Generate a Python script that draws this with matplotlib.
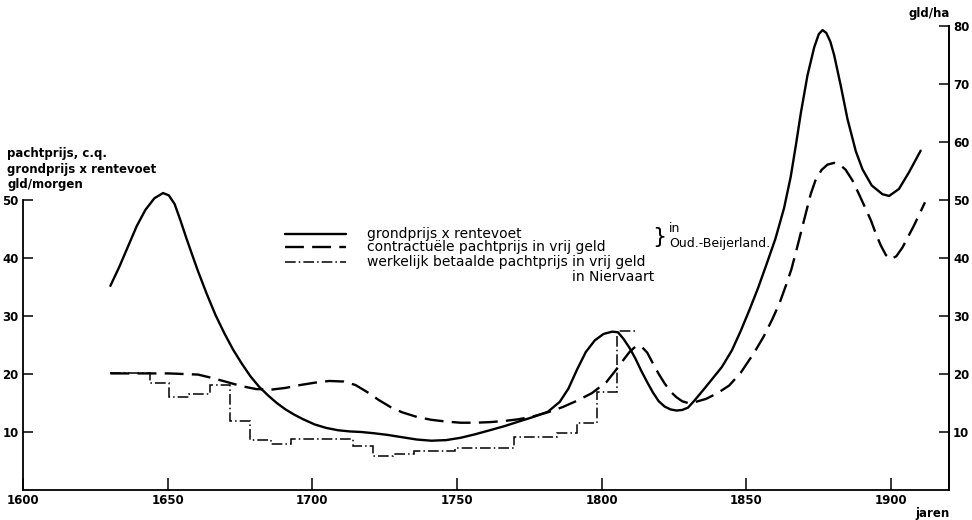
import matplotlib
matplotlib.use("Agg")
import matplotlib.pyplot as plt
from matplotlib.lines import Line2D
from matplotlib.transforms import Affine2D

plt.rcParams['font.family'] = ['DejaVu Sans']

# ---- data ----
grond_years = [1630.2, 1633.3, 1636.3, 1639.3, 1642.3, 1645.4, 1648.4, 1650.4, 1652.4, 1654.4,
               1656.4, 1658.5, 1660.5, 1663.5, 1666.5, 1669.5, 1672.6, 1675.6, 1678.6, 1681.6,
               1684.7, 1687.7, 1690.7, 1693.7, 1696.8, 1700.8, 1704.8, 1708.9, 1712.9, 1716.9,
               1721.0, 1726.0, 1731.0, 1736.1, 1741.1, 1746.2, 1751.2, 1756.2, 1761.3, 1766.3,
               1771.3, 1776.4, 1781.4, 1785.5, 1788.5, 1791.5, 1794.5, 1797.6, 1800.6, 1803.6,
               1805.6, 1807.6, 1809.6, 1811.6, 1813.6, 1815.7, 1817.7, 1819.7, 1821.7, 1823.7,
               1825.8, 1827.8, 1829.8, 1832.0, 1836.0, 1841.5, 1845.0, 1848.0, 1851.0, 1854.0,
               1857.0, 1860.0, 1863.0, 1865.3, 1867.1, 1868.8, 1871.1, 1873.4, 1875.0, 1876.3,
               1877.6, 1879.0, 1880.3, 1882.6, 1884.9, 1887.8, 1890.1, 1893.3, 1897.0, 1899.3,
               1902.7, 1906.2, 1910.2]
grond_vals = [35.2, 38.5, 42.0, 45.5, 48.3, 50.3, 51.2, 50.8, 49.3, 46.5,
              43.5, 40.5, 37.7, 33.8, 30.2, 27.1, 24.2, 21.8, 19.6, 17.8,
              16.3, 15.0, 13.9, 13.0, 12.2, 11.3, 10.7, 10.3, 10.1, 10.0,
              9.8, 9.5, 9.1, 8.7, 8.5, 8.6, 9.0, 9.6, 10.3, 11.0,
              11.8, 12.6, 13.5, 15.2, 17.5, 20.8, 23.8, 25.8, 26.9, 27.3,
              27.2, 26.0, 24.5, 22.7, 20.6, 18.6, 16.8, 15.3, 14.4, 13.9,
              13.7, 13.8, 14.2, 15.4, 17.8, 21.2, 24.1, 27.4, 31.0, 34.8,
              39.0, 43.3, 48.6, 54.0, 59.5, 65.0, 71.5, 76.3, 78.6, 79.3,
              78.8, 77.3, 75.0, 69.7, 64.0, 58.4, 55.3, 52.5, 51.0, 50.7,
              51.9, 54.8, 58.5]

contract_years = [1630.2, 1640.3, 1650.4, 1660.5, 1665.5, 1670.6, 1675.6, 1680.6, 1685.7, 1690.7,
                  1695.8, 1700.8, 1705.8, 1710.9, 1714.9, 1718.9, 1723.0, 1727.0, 1731.0, 1736.1,
                  1741.1, 1746.2, 1751.2, 1756.2, 1761.3, 1766.3, 1771.3, 1776.4, 1781.4, 1786.5,
                  1791.5, 1796.6, 1801.6, 1804.6, 1807.6, 1809.6, 1811.6, 1813.6, 1815.7, 1817.7,
                  1819.7, 1821.7, 1823.7, 1825.8, 1827.8, 1829.8, 1831.8, 1836.0, 1840.0, 1844.0,
                  1848.0, 1852.7, 1856.0, 1859.0, 1861.5, 1863.6, 1865.5, 1867.1, 1869.9, 1872.2,
                  1874.0, 1876.0, 1878.0, 1880.3, 1882.3, 1884.3, 1886.6, 1888.9, 1891.0, 1893.0,
                  1894.8, 1896.4, 1898.2, 1899.9, 1901.8, 1903.9, 1907.9, 1911.7]
contract_vals = [20.1, 20.1, 20.1, 19.9, 19.3, 18.6, 17.9, 17.4, 17.3, 17.6,
                 18.1, 18.5, 18.8, 18.7, 18.1, 16.9, 15.5, 14.3, 13.4, 12.6,
                 12.1, 11.8, 11.6, 11.6, 11.7, 11.9, 12.2, 12.7, 13.4, 14.3,
                 15.4, 16.7, 18.6, 20.5, 22.5, 23.8, 24.7, 24.8, 23.7, 21.8,
                 20.0, 18.4, 17.0, 16.0, 15.3, 15.0, 15.1, 15.7, 16.7, 18.0,
                 20.2, 23.7, 26.5, 29.5, 32.3, 35.2, 38.0, 41.0, 46.5, 51.0,
                 53.6, 55.2, 56.1, 56.4, 56.1, 55.2, 53.4, 51.0, 48.7, 46.5,
                 44.1, 42.2, 40.5, 39.8, 40.3, 41.8, 45.6, 49.6]

werk_edges = [1630.2, 1643.8, 1650.4, 1657.5, 1664.5, 1671.6, 1678.6, 1685.7, 1692.7, 1713.9,
              1721.0, 1728.0, 1735.1, 1749.2, 1769.8, 1784.5, 1791.5, 1798.2, 1805.4, 1811.9]
werk_vals = [20.1, 18.4, 16.0, 16.6, 18.1, 11.9, 8.6, 7.9, 8.8, 7.6, 5.9, 6.2, 6.7, 7.2, 9.1,
             9.8, 11.6, 16.9, 27.4]

x_ticks = [1600, 1650, 1700, 1750, 1800, 1850, 1900]
left_ticks = [10, 20, 30, 40, 50]
right_ticks = [10, 20, 30, 40, 50, 60, 70, 80]

labels = ["grondprijs x rentevoet",
          "contractuële pachtprijs in vrij geld",
          "werkelijk betaalde pachtprijs in vrij geld"]

# ---- figure ----
W, H = 972, 520
fig = plt.figure(figsize=(W / 100, H / 100), dpi=100)
x0, x1 = 23, 949
y_bottom = 490
ax = fig.add_axes([x0 / W, (H - y_bottom) / H, (x1 - x0) / W, y_bottom / H])
ax.set_xlim(1600, 1920)
ax.set_ylim(0, y_bottom / 5.8)

solid_style = dict(color='black', lw=1.7, linestyle='-', solid_capstyle='round',
                   solid_joinstyle='round')
dash_style = dict(color='black', lw=1.7, linestyle=(0, (8, 3.5)))
dashdot_style = dict(color='black', lw=1.1, linestyle=(0, (7, 2, 1, 2)))

ax.plot(grond_years, grond_vals, **solid_style)
ax.plot(contract_years, contract_vals, **dash_style)
ax.stairs(werk_vals, werk_edges, baseline=None, fill=False, edgecolor='black',
          lw=1.1, linestyle=(0, (7, 2, 1, 2)))

# spines
ax.spines['top'].set_visible(False)
ax.spines['left'].set_bounds(0, 50)
ax.spines['right'].set_bounds(0, 80)
for s in ['left', 'right', 'bottom']:
    ax.spines[s].set_linewidth(1.3)

tick_font = dict(fontsize=8.5, fontweight='bold')
ax.set_xticks(x_ticks)
ax.set_xticklabels([str(t) for t in x_ticks], **tick_font)
ax.set_yticks(left_ticks)
ax.set_yticklabels([str(t) for t in left_ticks], **tick_font)
ax.tick_params(axis='x', direction='in', length=9, width=1.1, pad=3)
ax.tick_params(axis='y', direction='in', length=7, width=1.1, pad=3)

ax2 = ax.twinx()
ax2.set_ylim(ax.get_ylim())
ax2.set_yticks(right_ticks)
ax2.set_yticklabels([str(t) for t in right_ticks], **tick_font)
ax2.tick_params(axis='y', direction='in', length=7, width=1.1, pad=3)
for s in ['top', 'left', 'bottom']:
    ax2.spines[s].set_visible(False)
ax2.spines['right'].set_bounds(0, 80)
ax2.spines['right'].set_linewidth(1.3)

# axis titles
pix = Affine2D().scale(1, -1).translate(0, H)  # pixel coords, y downwards
fig.text(7, 169, "pachtprijs, c.q.\ngrondprijs x rentevoet\ngld/morgen", transform=pix,
         fontsize=8.5, fontweight='bold', va='center', ha='left', linespacing=1.25)
fig.text(950, 14, "gld/ha", transform=pix, fontsize=8.5, fontweight='bold', va='center', ha='right')
fig.text(950, 513, "jaren", transform=pix, fontsize=8.5, fontweight='bold', va='center', ha='right')

# legend (manual)
leg_fs = 10
rows_y = [234, 247, 262]
styles = [solid_style, dash_style, dashdot_style]
for yy, st, lab in zip(rows_y, styles, labels):
    fig.add_artist(Line2D([285, 346], [yy, yy], transform=pix, **st))
    fig.text(367, yy, lab, transform=pix, fontsize=leg_fs, va='center', ha='left')

# place "in Niervaart" under the words "in vrij geld" of the third entry
fig.canvas.draw()
probe = fig.text(367, 262, "werkelijk betaalde pachtprijs ", transform=pix, fontsize=leg_fs,
                 va='center', ha='left')
bb = probe.get_window_extent(renderer=fig.canvas.get_renderer())
probe.remove()
fig.text(bb.x1, 277, "in Niervaart", transform=pix, fontsize=leg_fs, va='center', ha='left')

fig.text(666, 237, "}", transform=pix, fontsize=16, va='center', ha='right')
fig.text(669, 228, "in", transform=pix, fontsize=9, va='center', ha='left')
fig.text(669, 243, "Oud.-Beijerland.", transform=pix, fontsize=9, va='center', ha='left')

fig.savefig("out.png", dpi=100)
